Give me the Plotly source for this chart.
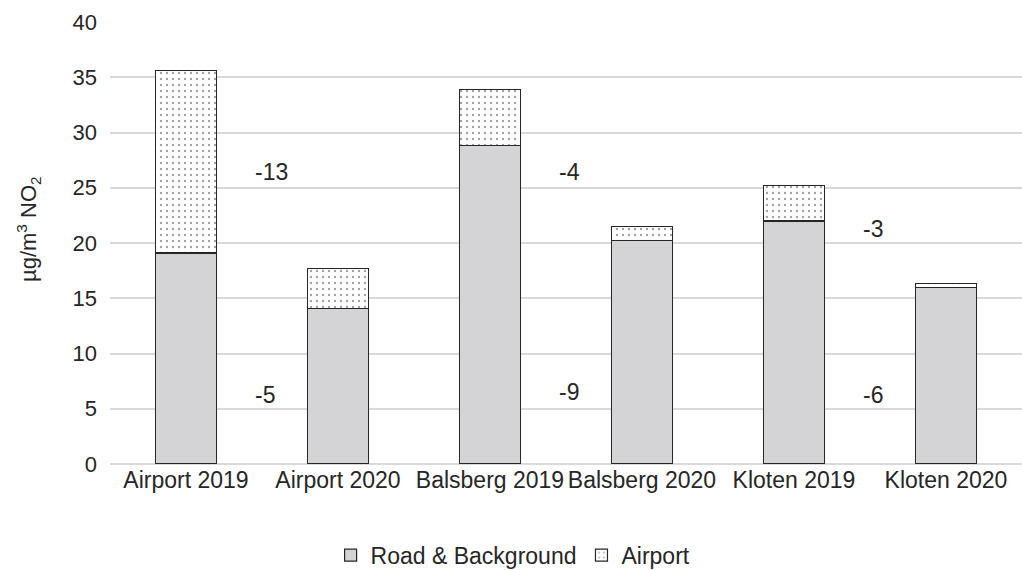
import plotly.graph_objects as go

# NO2 source apportionment per site and year
categories = ["Airport 2019", "Airport 2020", "Balsberg 2019",
              "Balsberg 2020", "Kloten 2019", "Kloten 2020"]
road_background = [19.1, 14.1, 28.8, 20.2, 22.0, 16.0]
airport = [16.5, 3.6, 5.1, 1.3, 3.2, 0.3]

# vertical positions (in µg/m³) of the change labels
label_y_airport = [26.4, 26.4, 21.3]
label_y_road = [6.2, 6.5, 6.2]

TEXT = "#262626"
FONT = "Liberation Sans, Arial, sans-serif"
FS = 23

fig = go.Figure()
fig.add_trace(go.Bar(
    x=categories, y=road_background, name="Road & Background",
    marker=dict(color="#d4d4d6", line=dict(color="#262626", width=1.2)),
    width=0.4,
))
fig.add_trace(go.Bar(
    x=categories, y=airport, name="Airport",
    marker=dict(color="white", line=dict(color="#262626", width=1.2),
                pattern=dict(shape=".", fgcolor="#444444", bgcolor="white",
                             size=6, solidity=0.12)),
    width=0.4,
))

# change 2019 -> 2020 for each site, written between its two bars
for k in range(3):
    i19, i20 = 2 * k, 2 * k + 1
    d_air = round(airport[i20] - airport[i19])
    d_road = round(road_background[i20] - road_background[i19])
    for val, yv in ((d_air, label_y_airport[k]), (d_road, label_y_road[k])):
        fig.add_annotation(
            x=i19 + 0.44, y=yv, xref="x", yref="y", text=f"{val}",
            showarrow=False, xanchor="left", yanchor="middle",
            font=dict(family=FONT, size=FS, color=TEXT),
        )

# vertical axis title, placed in paper units from pixel offsets
fig.add_annotation(
    x=(28 - 110) / (1022 - 110), y=(464 - 229) / (464 - 22),
    xref="paper", yref="paper", text="µg/m<sup>3</sup> NO<sub>2</sub>",
    showarrow=False, textangle=-90, xanchor="center", yanchor="middle",
    font=dict(family=FONT, size=FS - 1, color=TEXT),
)

fig.update_layout(
    barmode="stack",
    width=1022, height=570,
    margin=dict(l=110, r=0, t=22, b=106, autoexpand=False),
    paper_bgcolor="white", plot_bgcolor="white",
    font=dict(family=FONT, size=FS, color=TEXT),
    showlegend=True,
    legend=dict(orientation="h", x=0.442, xanchor="center",
                yref="container", y=0.026, yanchor="middle",
                font=dict(size=FS, color=TEXT),
                itemwidth=30, traceorder="normal"),
    bargap=0.6,
)
fig.update_xaxes(
    showline=False, showgrid=False, ticks="",
    tickfont=dict(size=FS, color=TEXT),
)
fig.update_yaxes(
    range=[0, 40], dtick=5, showgrid=True, gridcolor="#d9d9d9", gridwidth=1.5,
    zeroline=True, zerolinecolor="#d9d9d9", zerolinewidth=1.5,
    showline=False, ticks="", ticklabelstandoff=12,
    tickfont=dict(size=FS - 1, color=TEXT),
)

fig.write_html("out.html")
